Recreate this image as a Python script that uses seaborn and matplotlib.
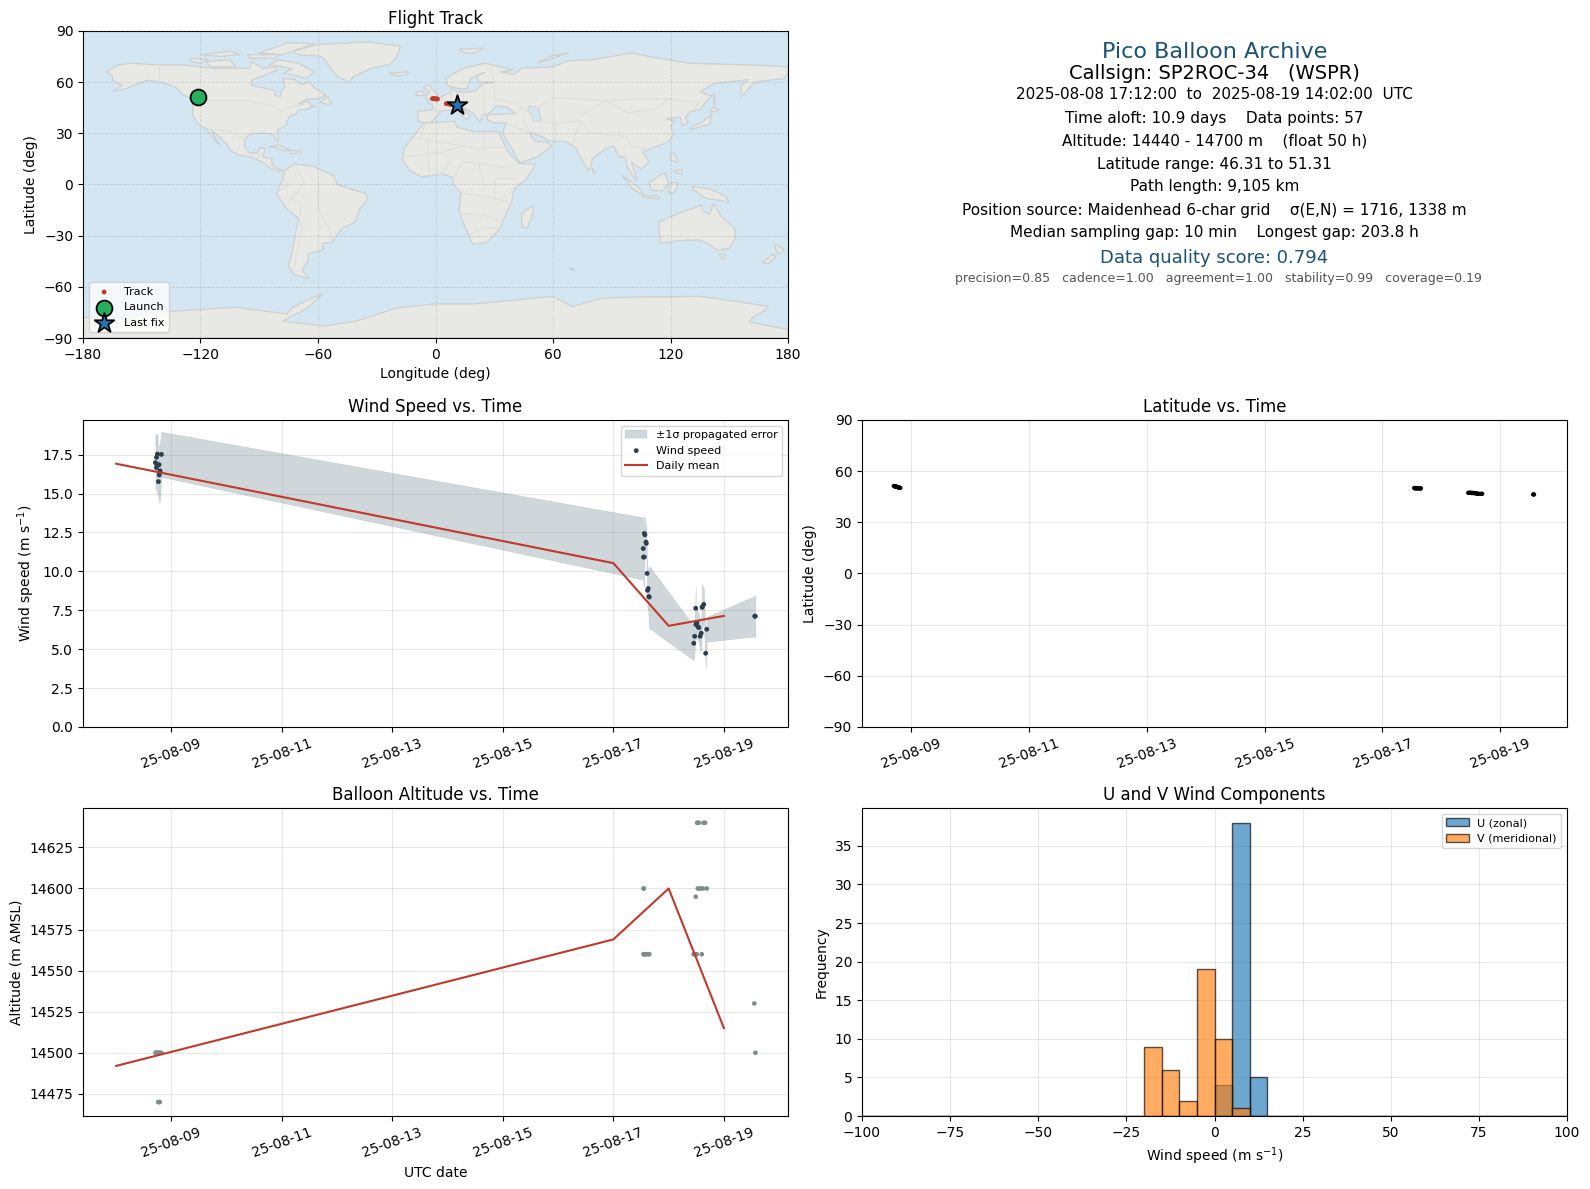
import matplotlib
matplotlib.use("Agg")
import matplotlib.pyplot as plt
import matplotlib.dates as mdates
import numpy as np
import pandas as pd
import seaborn as sns

# day of August 2025 (fractional)
wind_day = [8.710, 8.730, 8.730, 8.735, 8.747, 8.765, 8.777, 8.780, 8.790, 8.795, 8.820,
            17.540, 17.545, 17.557, 17.560, 17.570, 17.590, 17.595, 17.610, 17.617, 17.630, 17.640, 17.650,
            18.455, 18.470, 18.490, 18.490, 18.510, 18.530, 18.545, 18.570, 18.590, 18.605, 18.610, 18.635, 18.670, 18.690,
            19.557, 19.570]
wind_speed = [16.99, 17.33, 16.67, 16.86, 17.54, 15.77, 16.86, 16.20, 16.37, 16.47, 17.52,
              11.47, 10.92, 10.92, 12.44, 12.35, 11.88, 11.80, 9.87, 8.78, 8.90, 8.38, 8.35,
              5.38, 5.83, 7.63, 6.60, 6.71, 6.45, 6.39, 5.83, 6.03, 7.69, 7.73, 7.88, 4.74, 6.28,
              7.12, 7.12]
wind_sigma = [1.80, 1.50, 1.45, 1.90, 1.30, 1.30, 1.30, 1.80, 1.80, 1.90, 1.45,
              2.00, 1.80, 1.90, 1.15, 1.10, 1.00, 0.90, 0.70, 1.30, 1.30, 1.85, 2.00,
              1.10, 1.00, 1.40, 1.00, 0.90, 0.90, 0.90, 1.00, 1.00, 1.50, 1.40, 1.00, 0.95, 0.80,
              1.30, 1.35]
track_lat = [51.31, 51.2, 51.1, 51.0, 50.9, 50.8, 50.7, 50.6, 50.5, 50.4, 50.2,
             50.1, 50.1, 50.0, 50.0, 50.0, 49.9, 50.0, 50.0, 50.1, 50.0, 49.9, 49.9,
             47.3, 47.3, 47.3, 47.3, 47.2, 47.2, 47.2, 47.1, 46.9, 46.8, 46.8, 46.7, 46.7, 46.7,
             46.35, 46.31]

daily_day = [8, 17, 18, 19]
daily_wind = [16.92, 10.53, 6.50, 7.14]
daily_alt = [14492, 14569, 14600, 14515]

alt_day = [8.71, 8.73, 8.735, 8.747, 8.765, 8.78, 8.795, 8.82, 8.76, 8.777, 8.79,
           17.545, 17.55, 17.545, 17.557, 17.57, 17.59, 17.61, 17.64, 17.65,
           18.45, 18.47, 18.49, 18.49, 18.51, 18.515, 18.527, 18.53, 18.545, 18.557, 18.59, 18.60, 18.62, 18.63, 18.66, 18.69,
           19.55, 19.57]
altitude = [14500, 14500, 14500, 14500, 14500, 14500, 14500, 14500, 14470, 14470, 14470,
            14600, 14600, 14560, 14560, 14560, 14560, 14560, 14560, 14560,
            14560, 14560, 14560, 14595, 14560, 14640, 14600, 14640, 14640, 14600, 14600, 14560, 14600, 14640, 14640, 14600,
            14530, 14500]

bin_edges = list(range(-100, 105, 5))
u_bins = [2.5, 7.5, 12.5]
u_counts = [4, 38, 5]
v_bins = [-17.5, -12.5, -7.5, -2.5, 2.5, 7.5]
v_counts = [9, 6, 2, 19, 10, 1]

map_lon = [-1.5, -1.0, -0.5, 0.0, 0.5, 1.0, 5.5, 6.5, 7.5, 8.5, 9.5]
map_lat = [50.3, 50.2, 50.2, 50.1, 50.1, 50.0, 47.3, 47.2, 47.0, 46.7, 46.5]
launch = (-121.3, 51.31)
last_fix = (11.1, 46.31)

land = [
    [(-168,66),(-162,70),(-156,71),(-141,70),(-128,70),(-115,68),(-108,68),(-95,68),(-94,72),(-88,68),(-82,69),(-81,67),(-87,64),(-94,61),(-94,58),(-88,56.5),(-82,55),(-82,52),(-79,51.5),(-79,55),(-77,57),(-78,62),(-72,61.5),(-68,58.5),(-65,60),(-61,56),(-56,52.5),(-60,50),(-66,50),(-70,47),(-65,49),(-64,46),(-61,46),(-66,44),(-70,43.5),(-71,41.5),(-74,40.5),(-76,37),(-76,35),(-81,31.5),(-80,27),(-80.5,25),(-82,27),(-83,29.5),(-89,30),(-94,29.5),(-97,27.5),(-97.5,22),(-95,18.5),(-91,18.5),(-90,21),(-87,21.5),(-88,16),(-83.5,15),(-83.5,11),(-80,9),(-77.5,8.5),(-80,7.5),(-85,10),(-88,13),(-94,16),(-100,17),(-105,20),(-106,23),(-112,29.5),(-114.5,31.5),(-112,26),(-110,23),(-112,25),(-115,29),(-117,32.5),(-121,35),(-124,40),(-124,47),(-123,49),(-128,52),(-133,57),(-140,60),(-147,61),(-152,59),(-158,56),(-165,54.5),(-160,58),(-165,61),(-165,64)],
    [(-73,78),(-60,82),(-35,83.5),(-18,81),(-20,74),(-24,70),(-33,68),(-42,63),(-44,60),(-50,63),(-54,69),(-58,75),(-70,76)],
    [(-80,73),(-70,71),(-62,66),(-66,62),(-72,64),(-78,65),(-73,68),(-85,70)],
    [(-117,72),(-105,73),(-102,69),(-115,69)],
    [(-90,77),(-75,83),(-62,82.5),(-78,76)],
    [(-125,74),(-116,73),(-120,71),(-125,72)],
    [(-96,76),(-80,76),(-82,74),(-95,74)],
    [(-120,76),(-105,78),(-100,76),(-110,75)],
    [(-59,48),(-55,51.5),(-53,47),(-56,47)],
    [(-85,22),(-80,23),(-74,20),(-78,20),(-82,22)],
    [(-74,19.8),(-69,19.8),(-68.5,18.3),(-74,18)],
    [(-77,8),(-72,12),(-62,10.5),(-52,5),(-50,0),(-44,-2.5),(-35,-5.5),(-35,-9),(-39,-15),(-41,-22),(-48,-26),(-53,-34),(-58,-34.5),(-57,-38),(-65,-41),(-65,-45),(-68,-50),(-65,-55),(-72,-53),(-75,-48),(-73,-38),(-70,-20),(-76,-14),(-81,-6),(-80,-2),(-78,3)],
    [(-6,35.8),(10,37),(11,33.5),(20,31),(32,31),(35,24),(37,19),(43,12),(51,12),(47,4),(40,-3),(39,-10),(35,-20),(33,-26),(26,-34),(19,-35),(14,-22),(12,-15),(13,-5),(9,0),(9,4),(4,6),(-7,4.5),(-13,8),(-17,14.5),(-16,21),(-10,30)],
    [(49.5,-12.5),(50,-16),(47,-25.5),(44,-25),(44,-17)],
    [(-9,37),(-9,43),(-2,43.5),(-1,46),(-4.5,48.5),(2,51),(8,54),(8,57),(11,54),(20,54.5),(24,59),(30,60),(22,60),(21,64),(25,65.5),(18,62),(16,56),(12,56),(6,58),(5,62),(14,68),(25,71),(40,67),(33,66),(40,64.5),(44,68),(60,69),(68,72.5),(80,73),(100,77),(113,74),(130,71),(160,70),(180,69),(180,65),(178,62),(163,60),(156,51),(156,58),(160,61.5),(142,59),(135,54),(141,52),(135,44),(130,42.5),(127.5,39.5),(129,36),(126,34.5),(125,39.5),(121,39),(118,38.5),(122,37),(120,34),(122,30),(119,25),(110,21),(106,19),(109,13),(105,9),(100,13),(103,2),(100,6),(98,10),(97,16),(94,16),(91,22.5),(87,21),(80,15),(79.5,10),(78,8),(73,18),(72,21),(67,25),(57,25.5),(56,27),(50,30),(48,30),(51,25),(56,25),(59.5,22.5),(52,16),(43,12.5),(39,21),(35,28),(34.5,31),(36,36),(30,36),(26,38),(27,41),(41,41.5),(37,45),(31,46),(28,42),(24,40.5),(23,36.5),(19,42),(13,45.5),(18,40),(16,38),(10,44),(3,43),(0,39),(-2,36.7),(-5.5,36)],
    [(-5,50),(1,51),(1,53),(-2,56),(-3,58.5),(-6,57),(-3,54),(-5,52)],
    [(-10,52),(-6,52),(-6,55),(-10,54)],
    [(-24,65),(-14,66),(-14,64.5),(-20,63.5)],
    [(12,79),(25,80),(20,77),(15,77)],
    [(52,71),(68,77),(58,75)],
    [(130,32),(135,34),(140,35),(141,41),(140,40),(136,36.5),(131,34)],
    [(140,42),(145,43.5),(142,45.5)],
    [(142,54),(143,49),(142,46)],
    [(120,18),(122,18),(124,13),(120,14)],
    [(122,8),(126,9),(126,6),(123,7)],
    [(95,5.5),(104,-2),(106,-6),(101,-3)],
    [(105,-6.5),(114,-7),(114,-8.5),(106,-7.5)],
    [(109,1),(117,7),(119,1),(116,-4),(110,-3)],
    [(120,1),(124,1),(122,-5),(119,-5)],
    [(131,-1),(141,-3),(148,-7),(150,-10.5),(143,-9),(138,-8),(132,-3.5)],
    [(114,-22),(122,-18),(129,-15),(136,-12),(136,-15),(140,-17.5),(142,-11),(146,-19),(153,-26),(153,-32),(150,-37.5),(144,-38.5),(138,-34),(134,-32.5),(124,-33),(115,-34.5),(114,-26)],
    [(145,-41),(148,-41),(147,-43.5),(146,-43.5)],
    [(173,-35),(178,-38),(175,-41),(174,-39)],
    [(172,-41),(174,-42),(170,-46.5),(167,-46)],
    [(80,9.5),(82,7),(80.5,6)],
    [(68,-49),(70,-49),(70,-50)],
    [(-180,-90),(180,-90),(180,-85),(160,-80.6),(163,-77),(168,-74),(170,-71.6),(160,-69.6),(135,-65.6),(103,-66),(85,-66.6),(70,-71.6),(60,-65.6),(20,-70),(0,-70),(-20,-72.5),(-40,-80),(-57,-83),(-78,-80),(-66,-73),(-57.4,-64),(-62,-66),(-73,-72),(-76,-76),(-102,-72),(-130,-74),(-150,-76),(-160,-78),(-180,-78)],
]
caspian = [(48,46),(53,45),(53,41),(54,37),(50,37),(49,41),(47,44)]
borders = [
    [(-141,70),(-141,60)], [(-123,49),(-95,49),(-83,46),(-79,43),(-75,45),(-67,47)],
    [(-117,32.5),(-106,31.5),(-97,26)], [(-92,15),(-89,18)], [(-72,12),(-67,1),(-70,-4),(-74,-8),(-69,-11),(-69,-18)],
    [(-60,5),(-60,-13),(-58,-20),(-54,-26),(-53,-34)], [(-70,-20),(-68,-24),(-71,-40),(-72,-50)], [(-78,3),(-75,0),(-80,-4)],
    [(-13,27),(-8,27),(12,23),(25,20),(25,31)], [(25,22),(37,22)], [(-17,16),(4,19),(15,23)], [(14,13),(24,12),(34,10),(43,12)],
    [(9,4),(14,13)], [(13,-5),(30,-8),(40,-11)], [(12,-17),(25,-18),(33,-22)], [(30,-8),(30,4),(41,4)], [(-5,36),(-8,27)],
    [(-2,43.5),(3,43)], [(2,51),(8,48),(8,54)], [(14,54),(14,46)], [(24,54),(24,41)], [(28,70),(30,60),(30,50),(40,48)],
    [(40,48),(48,42),(60,51),(87,49),(100,50),(120,50),(135,48),(131,43)], [(50,37),(61,36),(74,37),(80,30),(97,28),(100,22),(108,21)],
    [(61,36),(61,25)], [(74,37),(70,24)], [(36,36),(48,30)], [(45,38),(48,30)], [(87,49),(74,40)],
    [(87,49),(98,42),(112,44),(120,50)], [(18,-29),(25,-25),(33,-26)], [(-4,25),(-3,5)], [(8,14),(3,7)], [(22,12),(25,-2)],
]

dates = lambda d: pd.Timestamp("2025-08-01") + pd.to_timedelta(np.asarray(d, dtype=float) - 1, unit="D")

RED = "#c0392b"
GREY = "#7f8c8d"
NAVY = "#1a5276"
W, H = 1590.0, 1189.0


def place(x0, x1, y0, y1):
    return [x0 / W, 1 - y1 / H, (x1 - x0) / W, (y1 - y0) / H]


def style_time(ax, start, stop):
    ax.set_xlim(dates(start), dates(stop))
    ax.xaxis.set_major_locator(mdates.DayLocator(bymonthday=[9, 11, 13, 15, 17, 19]))
    ax.xaxis.set_major_formatter(mdates.DateFormatter("%y-%m-%d"))
    ax.tick_params(axis="x", rotation=20)
    ax.grid(True, alpha=0.3)
    ax.set_axisbelow(True)
    ax.set_xlabel("")


fig = plt.figure(figsize=(15.9, 11.89), dpi=100)
ax_map = fig.add_axes(place(83, 788, 30.8, 338))
ax_wind = fig.add_axes(place(83, 788, 420, 727))
ax_lat = fig.add_axes(place(862, 1567, 420, 727))
ax_alt = fig.add_axes(place(83, 788, 808, 1116))
ax_hist = fig.add_axes(place(862, 1567, 808, 1116))

# flight track
ax_map.set_facecolor("#d4e6f1")
for poly in land:
    xs, ys = zip(*poly)
    ax_map.fill(xs, ys, facecolor="#e8e8e4", edgecolor="#cdd1d2", linewidth=0.9, zorder=1)
xs, ys = zip(*caspian)
ax_map.fill(xs, ys, facecolor="#d4e6f1", edgecolor="#cdd1d2", linewidth=0.7, zorder=1)
for line in borders:
    xs, ys = zip(*line)
    ax_map.plot(xs, ys, color="#dcdeda", linewidth=0.7, zorder=1.5)
sns.scatterplot(x=map_lon, y=map_lat, s=12, color=RED, edgecolor="none", label="Track", ax=ax_map, zorder=3)
ax_map.scatter(*launch, s=130, c="#27ae60", edgecolors="k", linewidths=1.3, label="Launch", zorder=4)
ax_map.scatter(*last_fix, s=220, c="tab:blue", marker="*", edgecolors="k", linewidths=1.3, label="Last fix", zorder=4)
ax_map.set_xlim(-180, 180)
ax_map.set_ylim(-90, 90)
ax_map.set_xticks(np.arange(-180, 181, 60))
ax_map.set_yticks(np.arange(-90, 91, 30))
ax_map.grid(True, alpha=0.2, linestyle="--", linewidth=0.6, color="#707070", zorder=2)
ax_map.set_axisbelow(False)
ax_map.set_xlabel("Longitude (deg)")
ax_map.set_ylabel("Latitude (deg)")
ax_map.set_title("Flight Track", pad=5)
ax_map.legend(loc="lower left", fontsize=8)

# wind speed
t_wind = dates(wind_day)
w = np.array(wind_speed)
s = np.array(wind_sigma)
ax_wind.fill_between(t_wind, w - s, w + s, color="#90a0a8", alpha=0.42, linewidth=0.3, label="\u00b11\u03c3 propagated error")
sns.scatterplot(x=t_wind, y=w, s=12, color="#2c3e50", edgecolor="none", label="Wind speed", ax=ax_wind, zorder=3)
sns.lineplot(x=dates(daily_day), y=daily_wind, color=RED, linewidth=1.5, estimator=None, label="Daily mean", ax=ax_wind, zorder=4)
ax_wind.set_ylim(0, 19.73)
ax_wind.set_yticks(np.arange(0, 18, 2.5))
ax_wind.set_ylabel("Wind speed (m s$^{-1}$)")
ax_wind.set_title("Wind Speed vs. Time")
ax_wind.legend(loc="upper right", fontsize=8)
style_time(ax_wind, 7.40, 20.16)

# latitude
sns.scatterplot(x=t_wind, y=track_lat, s=10, color="k", edgecolor="none", ax=ax_lat)
ax_lat.set_ylim(-90, 90)
ax_lat.set_yticks(np.arange(-90, 91, 30))
ax_lat.set_ylabel("Latitude (deg)")
ax_lat.set_title("Latitude vs. Time")
style_time(ax_lat, 8.17, 20.13)

# altitude
sns.scatterplot(x=dates(alt_day), y=altitude, s=11, color=GREY, edgecolor="none", ax=ax_alt)
sns.lineplot(x=dates(daily_day), y=daily_alt, color=RED, linewidth=1.5, estimator=None, ax=ax_alt)
ax_alt.set_yticks(np.arange(14475, 14626, 25))
ax_alt.set_ylim(14461.5, 14649)
ax_alt.set_ylabel("Altitude (m AMSL)")
ax_alt.set_title("Balloon Altitude vs. Time")
style_time(ax_alt, 7.40, 20.16)
ax_alt.set_xlabel("UTC date")

# wind components, edges share the bar transparency
bar_edge = (0, 0, 0, 0.65)
sns.histplot(x=u_bins, weights=u_counts, bins=bin_edges, color="tab:blue", alpha=0.65, edgecolor=bar_edge,
             linewidth=1, label="U (zonal)", ax=ax_hist)
sns.histplot(x=v_bins, weights=v_counts, bins=bin_edges, color="tab:orange", alpha=0.65, edgecolor=bar_edge,
             linewidth=1, label="V (meridional)", ax=ax_hist)
ax_hist.set_xlim(-100, 100)
ax_hist.set_ylim(0, 39.9)
ax_hist.grid(True, alpha=0.3)
ax_hist.set_axisbelow(True)
ax_hist.set_xlabel("Wind speed (m s$^{-1}$)")
ax_hist.set_ylabel("Frequency")
ax_hist.set_title("U and V Wind Components")
ax_hist.legend(loc="upper right", fontsize=8)

# summary block
info = [
    (51.5, "Pico Balloon Archive", 16, NAVY, 1214.5),
    (73.5, "Callsign: SP2ROC-34   (WSPR)", 14, "k", 1214.5),
    (94.5, "2025-08-08 17:12:00  to  2025-08-19 14:02:00  UTC", 11, "k", 1214.5),
    (118, "Time aloft: 10.9 days    Data points: 57", 11, "k", 1214.5),
    (141, "Altitude: 14440 - 14700 m    (float 50 h)", 11, "k", 1214.5),
    (164, "Latitude range: 46.31 to 51.31", 11, "k", 1214.5),
    (187, "Path length: 9,105 km", 11, "k", 1214.5),
    (210, "Position source: Maidenhead 6-char grid    \u03c3(E,N) = 1716, 1338 m", 11, "k", 1214.5),
    (233, "Median sampling gap: 10 min    Longest gap: 203.8 h", 11, "k", 1214.5),
    (258, "Data quality score: 0.794", 13, NAVY, 1214.5),
    (278.5, "precision=0.85   cadence=1.00   agreement=1.00   stability=0.99   coverage=0.19", 9, "#555555", 1218.5),
]
for y, txt, size, col, x in info:
    fig.text(x / W, 1 - y / H, txt, fontsize=size, color=col, ha="center", va="center")

fig.savefig("out.png", dpi=100)
